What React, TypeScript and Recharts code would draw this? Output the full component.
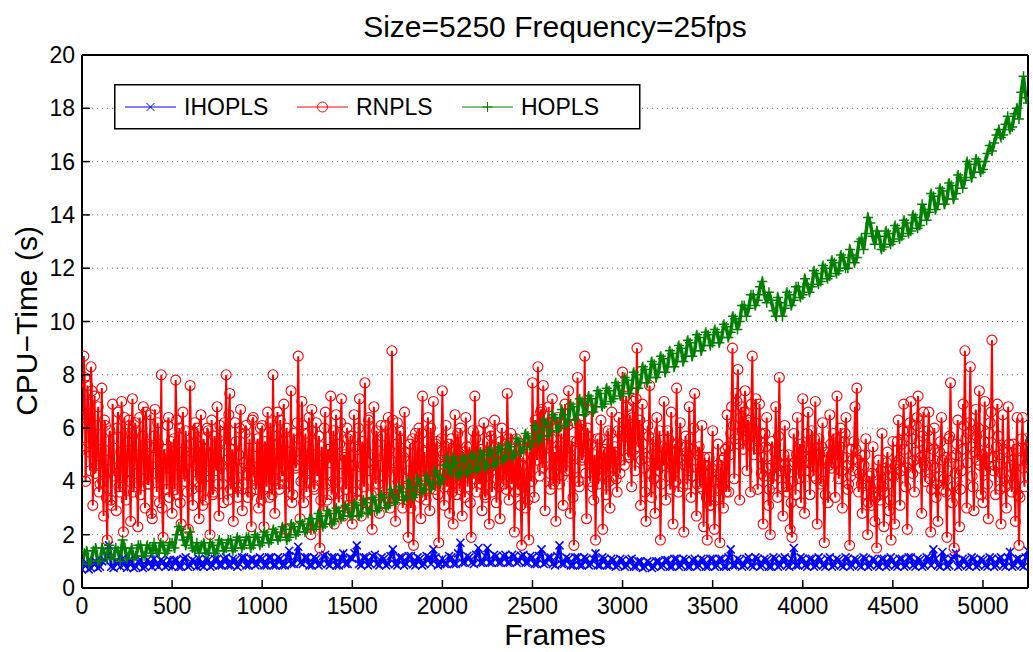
import React from "react";
import { LineChart, Line, XAxis, YAxis, CartesianGrid, Legend } from "recharts";

const FONT = '"Liberation Sans", Arial, Helvetica, sans-serif';

const X_TICKS = [0, 500, 1000, 1500, 2000, 2500, 3000, 3500, 4000, 4500, 5000];
const Y_TICKS = [0, 2, 4, 6, 8, 10, 12, 14, 16, 18, 20];
const LAST_FRAME = 5250;

// RNPLS, readings at frames 0, 10, 20 ... (rows of 500 frames)
const RN_STEP = 10;
const rnplsTime = [
  5.2, 8.7, 4.0, 7.6, 5.1, 8.3, 3.1, 7.2, 4.6, 6.8, 3.9, 7.5, 2.7, 6.1, 1.8, 5.5, 3.3, 6.9, 4.2, 2.9,
  6.6, 3.6, 7.0, 2.1, 5.8, 4.4, 6.3, 2.5, 7.1, 3.8, 5.9, 2.3, 6.4, 4.1, 6.8, 3.0, 5.4, 3.9, 6.5, 2.6,
  5.7, 4.3, 6.2, 3.2, 8.0, 1.9, 5.0, 3.7, 6.4, 4.5,
  2.8, 5.6, 7.8, 3.5, 6.0, 2.4, 6.6, 4.0, 5.3, 2.2, 7.6, 3.7, 5.8, 4.6, 6.0, 2.6, 6.5, 3.1, 5.2, 4.4,
  5.9, 2.0, 6.3, 3.6, 4.9, 6.8, 2.7, 5.5, 3.9, 6.2, 8.0, 3.3, 7.3, 4.5, 2.5, 6.2, 3.8, 5.0, 6.7, 2.9,
  4.7, 6.1, 3.4, 5.6, 2.3, 6.4, 4.1, 5.3, 3.0, 6.0,
  6.1, 2.3, 5.2, 6.6, 3.4, 4.8, 8.0, 2.8, 5.7, 3.9, 6.3, 4.2, 6.9, 2.2, 5.5, 3.6, 7.4, 3.5, 5.1, 4.6,
  8.7, 2.6, 7.0, 3.2, 5.8, 4.3, 6.4, 2.0, 5.9, 3.7, 6.2, 4.5, 1.5, 5.3, 2.9, 6.6, 3.3, 5.0, 7.2, 4.0,
  2.4, 6.5, 3.6, 5.4, 7.1, 2.7, 4.9, 6.0, 3.1, 5.7,
  2.4, 6.5, 3.6, 5.2, 7.1, 2.7, 4.6, 7.7, 3.2, 6.3, 4.4, 2.2, 6.8, 3.9, 5.5, 2.8, 6.1, 4.2, 5.0, 3.4,
  6.4, 3.0, 8.9, 4.7, 2.5, 6.2, 3.8, 5.6, 3.0, 6.6, 4.1, 1.9, 5.4, 3.5, 1.6, 5.8, 4.0, 6.0, 2.6, 7.2,
  5.1, 3.3, 6.4, 2.9, 5.2, 7.0, 3.7, 5.5, 1.7, 4.8,
  7.4, 3.1, 6.1, 4.3, 2.8, 5.6, 2.4, 6.5, 3.5, 5.0, 6.0, 2.7, 4.8, 6.4, 3.8, 5.3, 1.9, 5.9, 7.2, 3.6,
  5.9, 4.1, 2.9, 6.2, 3.4, 5.5, 2.4, 5.7, 4.6, 6.3, 3.2, 5.1, 2.6, 6.0, 3.9, 5.4, 7.3, 3.3, 5.8, 4.4,
  2.1, 5.6, 3.7, 5.2, 1.6, 4.9, 3.0, 5.5, 1.8, 4.7,
  7.7, 3.4, 6.0, 8.3, 4.2, 6.7, 7.6, 2.9, 5.4, 6.8, 3.7, 7.1, 4.6, 2.5, 6.4, 3.9, 5.8, 3.1, 6.9, 4.4,
  7.4, 2.8, 5.5, 1.6, 6.2, 7.9, 3.8, 6.1, 4.9, 8.7, 2.6, 5.7, 4.0, 6.7, 3.3, 1.8, 5.6, 4.3, 6.3, 2.2,
  5.2, 3.5, 5.9, 3.0, 6.6, 4.2, 5.1, 3.6, 6.4, 4.8,
  8.1, 4.6, 7.2, 5.0, 6.5, 3.8, 7.0, 4.4, 9.0, 5.3, 3.1, 6.9, 4.5, 2.5, 6.1, 7.6, 3.4, 5.6, 2.8, 6.4,
  4.7, 1.8, 5.3, 7.0, 3.3, 5.9, 4.2, 6.6, 2.4, 5.4, 7.5, 3.6, 6.2, 4.8, 2.1, 5.7, 3.9, 6.8, 3.4, 5.2,
  7.3, 2.7, 5.0, 3.8, 6.1, 2.3, 4.6, 1.8, 4.9, 3.1,
  5.9, 2.2, 4.4, 5.4, 1.7, 4.8, 3.0, 5.2, 6.5, 3.6, 5.8, 9.0, 4.1, 7.3, 8.2, 3.3, 6.8, 5.2, 7.4, 4.4,
  6.2, 3.6, 8.7, 5.0, 7.1, 3.7, 6.9, 4.3, 2.4, 5.8, 6.4, 3.1, 2.0, 5.5, 4.2, 6.8, 3.4, 7.9, 4.6, 2.7,
  6.1, 3.8, 5.0, 2.2, 1.9, 5.8, 3.5, 6.4, 4.1, 3.2,
  7.1, 2.8, 5.3, 6.6, 3.5, 5.9, 4.2, 7.0, 2.4, 5.6, 3.9, 6.2, 1.7, 4.8, 3.2, 6.5, 4.5, 5.8, 3.4, 7.2,
  4.1, 6.0, 3.0, 5.5, 6.4, 3.7, 1.6, 5.2, 4.4, 6.8, 7.5, 3.6, 5.0, 2.8, 4.6, 5.6, 2.0, 4.2, 3.1, 5.3,
  2.5, 1.5, 4.8, 3.3, 5.8, 2.3, 4.5, 5.1, 2.9, 1.8,
  5.5, 2.4, 4.7, 6.3, 3.1, 5.4, 6.9, 3.8, 2.2, 5.9, 7.0, 4.3, 3.6, 6.1, 7.2, 4.5, 2.8, 6.6, 4.0, 5.3,
  6.6, 2.1, 4.6, 6.0, 3.4, 2.5, 5.1, 6.4, 3.7, 4.9, 1.9, 5.6, 7.7, 3.2, 1.5, 5.0, 6.3, 2.3, 4.4, 6.9,
  8.9, 3.0, 5.8, 8.3, 4.2, 2.9, 6.7, 4.8, 7.4, 3.5,
  3.2, 7.0, 5.1, 2.6, 6.2, 9.3, 4.4, 3.5, 6.9, 5.0, 2.4, 6.5, 4.1, 3.0, 6.8, 4.6, 3.6, 5.4, 2.5, 6.4,
  1.6, 4.8, 6.4, 3.8, 5.6, 4.2,
];

// RNPLS, readings at frames 5, 15, 25 ... (rows of 500 frames)
const rnplsTimeMid = [
  6.4, 7.9, 5.3, 6.9, 4.4, 7.4, 5.8, 4.3, 6.1, 3.6, 5.2, 4.0, 6.3, 3.4, 4.8, 5.9, 3.1, 5.6, 4.5, 6.0,
  3.8, 5.1, 4.2, 6.4, 3.3, 5.5, 4.0, 5.8, 3.6, 6.2, 4.3, 5.0, 3.5, 5.7, 4.1, 6.6, 3.9, 5.3, 2.8, 4.9,
  6.7, 3.6, 5.4, 4.4, 3.0, 5.2, 4.7, 6.1, 3.4, 5.5,
  4.9, 3.7, 6.3, 4.6, 3.2, 5.1, 4.3, 5.9, 3.6, 4.8, 5.4, 3.1, 6.2, 4.0, 5.3, 3.8, 4.7, 5.6, 3.3, 6.0,
  4.2, 5.0, 3.5, 5.7, 4.4, 3.9, 6.1, 4.6, 3.2, 5.4, 4.8, 6.5, 3.7, 5.2, 4.1, 5.5, 3.4, 6.0, 4.5, 3.9,
  5.8, 4.3, 5.0, 3.6, 6.3, 4.2, 3.7, 5.6, 4.6, 3.3,
  4.4, 5.5, 3.8, 4.9, 6.2, 3.5, 5.4, 4.1, 6.6, 3.7, 4.8, 5.5, 3.9, 6.0, 4.3, 5.1, 3.2, 5.8, 4.5, 6.2,
  5.6, 4.0, 6.1, 4.8, 3.6, 5.3, 4.4, 6.7, 3.8, 5.0, 4.2, 5.7, 3.3, 4.6, 6.0, 3.9, 5.2, 4.7, 3.5, 5.9,
  4.0, 5.4, 3.2, 6.2, 4.3, 5.0, 3.7, 5.6, 4.6, 3.4,
  4.6, 5.3, 3.3, 6.0, 4.2, 5.5, 3.8, 5.1, 4.7, 6.4, 3.5, 5.0, 4.3, 5.9, 3.9, 4.6, 5.7, 3.2, 6.1, 4.4,
  5.2, 4.8, 6.3, 3.4, 5.4, 4.0, 5.9, 3.6, 4.9, 5.1, 3.3, 4.4, 3.0, 5.6, 3.8, 4.6, 5.3, 3.4, 5.8, 4.2,
  3.7, 5.5, 4.1, 6.0, 3.9, 4.7, 5.4, 3.5, 4.1, 5.6,
  5.0, 4.6, 3.8, 5.4, 4.0, 3.6, 5.2, 4.2, 5.8, 3.7, 4.5, 5.1, 3.4, 5.3, 4.6, 3.2, 4.9, 4.1, 5.6, 4.8,
  3.9, 5.2, 4.4, 3.5, 5.0, 4.2, 5.9, 3.6, 4.7, 5.3, 4.1, 3.8, 5.5, 4.3, 4.9, 3.7, 5.6, 4.5, 3.9, 5.2,
  3.6, 4.4, 5.0, 3.1, 4.6, 3.8, 4.2, 3.3, 5.1, 4.0,
  5.4, 6.3, 4.8, 5.7, 6.6, 4.5, 5.9, 4.9, 6.2, 4.3, 5.6, 3.9, 5.1, 6.0, 4.6, 5.3, 4.2, 5.8, 4.4, 6.1,
  4.9, 5.3, 3.4, 4.5, 5.5, 4.0, 6.3, 4.8, 5.6, 4.3, 6.0, 4.7, 5.4, 3.8, 5.0, 4.4, 3.9, 5.6, 4.2, 5.1,
  4.6, 5.4, 4.0, 5.8, 4.5, 5.3, 4.1, 5.9, 4.3, 5.7,
  6.2, 5.7, 6.8, 4.9, 5.6, 6.4, 5.2, 7.1, 5.6, 6.3, 4.8, 5.4, 3.6, 4.9, 5.7, 4.3, 5.0, 4.1, 5.5, 4.4,
  5.9, 3.9, 4.6, 5.2, 4.8, 5.6, 3.7, 5.1, 4.5, 4.0, 5.4, 4.9, 5.3, 3.8, 4.6, 5.1, 4.4, 5.6, 4.2, 6.0,
  4.8, 3.9, 5.3, 4.4, 3.7, 4.9, 3.4, 4.3, 3.1, 4.5,
  4.0, 3.3, 4.6, 3.4, 4.2, 3.8, 4.9, 3.6, 5.3, 5.0, 6.8, 6.1, 5.6, 7.0, 5.4, 6.4, 5.9, 6.6, 5.7, 6.3,
  5.4, 6.9, 5.8, 6.2, 5.6, 5.2, 5.8, 4.9, 4.2, 5.3, 4.5, 3.7, 4.6, 3.9, 5.1, 4.8, 5.7, 4.4, 3.8, 5.0,
  4.4, 3.6, 4.6, 3.2, 4.0, 4.7, 5.0, 4.5, 5.4, 5.1,
  4.9, 4.4, 5.8, 4.7, 5.2, 4.6, 5.6, 4.1, 4.8, 5.0, 5.3, 4.0, 3.5, 5.1, 4.6, 5.4, 5.1, 4.7, 5.6, 5.0,
  5.3, 4.4, 4.9, 5.8, 4.6, 3.9, 4.2, 4.8, 5.5, 5.2, 4.8, 4.3, 3.9, 4.1, 5.0, 3.5, 3.2, 3.8, 4.3, 3.6,
  3.4, 3.9, 3.5, 4.4, 3.8, 3.6, 4.7, 3.9, 3.3, 4.2,
  4.2, 4.6, 5.5, 4.8, 4.4, 5.9, 5.2, 4.5, 4.7, 6.2, 5.6, 4.8, 5.1, 6.4, 5.5, 4.9, 5.7, 5.0, 4.6, 5.9,
  4.1, 3.7, 5.2, 4.5, 3.9, 4.2, 5.5, 4.8, 4.1, 3.6, 4.4, 5.7, 4.9, 3.8, 4.3, 5.4, 4.6, 3.7, 5.2, 6.1,
  5.6, 4.7, 6.2, 5.3, 3.8, 5.1, 5.7, 6.0, 4.6, 5.0,
  5.5, 4.4, 3.9, 5.8, 6.6, 4.9, 4.6, 5.3, 5.7, 3.7, 4.3, 5.2, 3.8, 5.1, 5.4, 4.2, 4.8, 3.9, 5.2, 3.5,
  3.4, 5.6, 4.5, 5.2, 4.7,
];

// IHOPLS, readings at frames 0, 25, 50 ... (rows of 500 frames)
const IH_STEP = 25;
const ihoplsTime = [
  0.7, 0.95, 0.75, 1.0, 0.8, 1.05, 1.6, 0.75, 0.95, 1.1, 0.75, 1.0, 0.8, 1.05, 0.8, 0.95, 1.1, 0.8, 1.0, 0.85,
  0.8, 1.05, 0.8, 1.15, 0.85, 1.0, 1.1, 0.8, 1.05, 0.85, 1.1, 0.85, 1.15, 0.85, 1.05, 0.9, 1.15, 0.85, 1.1, 0.9,
  1.1, 0.85, 1.15, 0.85, 1.1, 0.85, 1.4, 0.9, 1.55, 0.9, 1.15, 0.85, 1.1, 0.9, 1.25, 0.85, 1.15, 0.85, 1.3, 0.9,
  1.1, 1.6, 0.85, 1.15, 0.9, 1.25, 0.85, 1.1, 0.9, 1.45, 0.85, 1.15, 0.9, 1.2, 0.85, 1.1, 0.9, 1.15, 1.45, 0.85,
  1.1, 0.9, 1.15, 0.9, 1.7, 0.95, 1.15, 0.9, 1.5, 0.95, 1.5, 0.95, 1.2, 0.95, 1.25, 0.95, 1.2, 1.0, 1.25, 0.95,
  1.15, 0.9, 1.45, 0.95, 1.15, 0.85, 1.6, 0.9, 1.1, 0.85, 1.15, 0.85, 1.1, 0.9, 1.3, 0.85, 1.1, 0.85, 1.05, 0.85,
  1.05, 0.85, 1.1, 0.8, 1.0, 0.8, 0.95, 0.8, 1.0, 0.85, 1.05, 0.8, 1.1, 0.85, 1.05, 0.8, 1.1, 0.85, 1.05, 0.8,
  1.1, 0.85, 1.1, 0.8, 1.45, 0.85, 1.05, 0.85, 1.15, 0.8, 1.1, 0.85, 1.05, 0.8, 1.1, 0.85, 1.15, 0.8, 1.5, 0.85,
  1.1, 0.8, 1.1, 0.85, 1.05, 0.8, 1.15, 0.85, 1.05, 0.8, 1.1, 0.85, 1.05, 0.8, 1.1, 0.85, 1.05, 0.8, 1.1, 0.85,
  1.05, 0.8, 1.1, 0.85, 1.15, 0.8, 1.05, 0.85, 1.1, 1.45, 0.85, 1.35, 0.8, 1.1, 1.3, 0.85, 1.05, 0.8, 1.1, 0.85,
  1.05, 0.8, 1.1, 0.85, 1.15, 0.8, 1.35, 0.85, 1.1, 0.8, 1.4,
];

// IHOPLS, readings half-way between the ones above
const ihoplsTimeMid = [
  0.9, 0.7, 0.95, 0.75, 1.0, 1.2, 0.8, 1.0, 0.8, 0.9, 1.05, 0.75, 1.0, 0.75, 1.05, 0.8, 0.9, 1.05, 0.8, 1.05,
  1.05, 0.8, 1.1, 0.8, 1.05, 0.8, 0.85, 1.1, 0.8, 1.1, 0.85, 1.1, 0.85, 1.1, 0.8, 1.15, 0.85, 1.1, 0.85, 1.15,
  0.85, 1.15, 0.85, 1.15, 0.85, 1.15, 0.9, 1.2, 0.95, 1.15, 0.85, 1.15, 0.85, 1.2, 0.9, 1.15, 0.85, 1.15, 0.9, 1.15,
  1.3, 0.9, 1.15, 0.85, 1.2, 0.9, 1.15, 0.85, 1.2, 0.9, 1.15, 0.85, 1.2, 0.9, 1.15, 0.85, 1.2, 0.9, 1.15, 0.9,
  0.9, 1.2, 0.9, 1.3, 0.95, 1.2, 0.95, 1.25, 0.95, 1.2, 0.95, 1.25, 0.95, 1.2, 0.95, 1.25, 0.95, 1.2, 0.95, 1.2,
  0.9, 1.2, 0.9, 1.15, 0.9, 1.2, 0.9, 1.15, 0.85, 1.15, 0.85, 1.15, 0.85, 1.1, 0.85, 1.15, 0.85, 1.1, 0.8, 1.1,
  0.8, 1.05, 0.8, 1.0, 0.75, 1.0, 0.75, 1.0, 0.8, 1.05, 0.8, 1.1, 0.8, 1.1, 0.8, 1.05, 0.8, 1.1, 0.8, 1.1,
  0.8, 1.1, 0.8, 1.15, 0.85, 1.1, 0.8, 1.1, 0.85, 1.15, 0.8, 1.1, 0.8, 1.15, 0.8, 1.1, 0.85, 1.1, 0.85, 1.15,
  0.85, 1.1, 0.8, 1.15, 0.85, 1.1, 0.8, 1.1, 0.85, 1.15, 0.8, 1.1, 0.85, 1.15, 0.8, 1.1, 0.85, 1.1, 0.8, 1.15,
  0.85, 1.1, 0.8, 1.15, 0.85, 1.1, 0.8, 1.15, 0.85, 1.1, 0.8, 1.1, 0.85, 1.15, 0.8, 1.1, 0.85, 1.15, 0.8, 1.1,
  0.85, 1.15, 0.8, 1.1, 0.85, 1.15, 0.8, 1.1, 0.85, 1.15,
];

// HOPLS, readings at frames 0, 25, 50 ... (rows of 500 frames)
const HO_STEP = 25;
const hoplsTime = [
  0.9, 1.4, 1.0, 1.5, 1.0, 1.3, 1.6, 1.1, 1.4, 1.8, 1.1, 1.5, 1.2, 1.6, 1.2, 1.5, 1.7, 1.3, 1.6, 1.4,
  1.7, 2.0, 2.2, 1.6, 2.1, 1.4, 1.3, 1.7, 1.3, 1.6, 1.4, 1.7, 1.5, 1.8, 1.5, 1.8, 1.6, 1.9, 1.6, 1.9,
  1.7, 2.0, 1.8, 2.1, 1.9, 2.2, 1.9, 2.3, 2.1, 2.4, 2.2, 2.6, 2.3, 2.7, 2.4, 2.8, 2.5, 2.9, 2.7, 3.0,
  2.7, 3.1, 2.8, 3.2, 2.9, 3.3, 3.0, 3.4, 3.1, 3.5, 3.3, 3.6, 3.4, 3.8, 3.5, 3.9, 3.7, 4.0, 3.9, 4.2,
  4.1, 4.9, 4.3, 4.7, 4.3, 4.8, 4.4, 4.9, 4.5, 5.0, 4.6, 5.1, 4.7, 5.2, 4.9, 5.3, 5.0, 5.5, 5.2, 5.7,
  5.5, 6.0, 5.7, 6.2, 5.9, 6.4, 6.0, 6.5, 6.3, 6.8, 6.5, 7.0, 6.6, 7.1, 6.8, 7.3, 6.9, 7.4, 7.1, 7.6,
  7.3, 7.8, 7.5, 8.0, 7.7, 8.2, 7.9, 8.4, 8.1, 8.6, 8.3, 8.8, 8.5, 9.0, 8.7, 9.2, 8.9, 9.4, 9.1, 9.5,
  9.2, 9.6, 9.4, 9.8, 9.6, 10.1, 10.0, 10.6, 10.5, 11.0, 10.8, 11.5, 10.7, 10.8, 10.2, 10.7, 10.5, 11.0, 10.8, 11.3,
  11.0, 11.4, 11.3, 11.8, 11.5, 12.0, 11.7, 12.2, 11.9, 12.4, 12.0, 12.5, 12.4, 13.1, 13.3, 13.7, 12.9, 13.2, 12.8, 13.3,
  13.0, 13.5, 13.2, 13.7, 13.4, 13.9, 13.6, 14.2, 14.1, 14.7, 14.4, 14.9, 14.6, 15.1, 14.8, 15.4, 15.3, 15.9, 15.6, 16.0,
  15.7, 16.3, 16.4, 17.0, 16.9, 17.4, 17.2, 17.8, 17.6, 19.2, 18.2,
];

// HOPLS, readings half-way between the ones above
const hoplsTimeMid = [
  1.3, 0.9, 1.4, 1.0, 1.5, 1.1, 1.2, 1.5, 1.0, 1.5, 1.3, 1.1, 1.6, 1.2, 1.6, 1.3, 1.4, 1.7, 1.3, 1.7,
  1.5, 2.3, 1.8, 1.9, 1.5, 1.7, 1.6, 1.3, 1.7, 1.3, 1.8, 1.4, 1.8, 1.4, 1.9, 1.5, 1.9, 1.5, 2.0, 1.6,
  2.1, 1.7, 2.2, 1.8, 2.3, 1.8, 2.4, 2.0, 2.5, 2.1, 2.6, 2.2, 2.8, 2.3, 2.9, 2.4, 3.0, 2.6, 3.1, 2.7,
  3.2, 2.7, 3.3, 2.8, 3.4, 2.9, 3.5, 3.0, 3.7, 3.2, 3.8, 3.3, 4.0, 3.4, 4.1, 3.6, 4.2, 3.7, 4.4, 3.9,
  4.6, 4.5, 4.9, 4.2, 4.9, 4.3, 5.0, 4.4, 5.1, 4.5, 5.2, 4.6, 5.3, 4.8, 5.4, 4.9, 5.6, 5.1, 5.8, 5.3,
  6.1, 5.5, 6.3, 5.7, 6.5, 5.9, 6.7, 6.1, 6.9, 6.3, 7.1, 6.5, 7.2, 6.6, 7.4, 6.8, 7.5, 7.0, 7.7, 7.2,
  7.9, 7.3, 8.1, 7.5, 8.3, 7.7, 8.5, 7.9, 8.7, 8.1, 8.9, 8.3, 9.1, 8.5, 9.3, 8.7, 9.5, 8.9, 9.6, 9.1,
  9.7, 9.2, 9.9, 9.4, 10.2, 9.7, 10.6, 10.2, 11.0, 10.6, 11.3, 11.0, 11.1, 10.4, 10.9, 10.2, 11.1, 10.6, 11.3, 10.9,
  11.6, 11.1, 11.9, 11.4, 12.1, 11.6, 12.3, 11.8, 12.5, 12.0, 12.7, 12.2, 13.0, 12.7, 13.9, 13.2, 13.4, 12.7, 13.4, 12.9,
  13.6, 13.1, 13.8, 13.3, 14.0, 13.5, 14.4, 13.8, 14.8, 14.2, 15.0, 14.4, 15.2, 14.6, 15.5, 15.0, 16.0, 15.4, 16.1, 15.6,
  16.0, 16.6, 16.7, 17.2, 17.0, 17.7, 17.3, 18.0, 18.6, 18.4,
];

const toPoints = (vals: number[], step: number, offset = 0) =>
  vals.map((y, i) => ({ x: Math.min(offset + i * step, LAST_FRAME), y }));
const merge = (a: { x: number; y: number }[], b: { x: number; y: number }[]) =>
  [...a, ...b].sort((p, q) => p.x - q.x);

const ihData = merge(toPoints(ihoplsTime, IH_STEP), toPoints(ihoplsTimeMid, IH_STEP, IH_STEP / 2));
const rnData = merge(toPoints(rnplsTime, RN_STEP), toPoints(rnplsTimeMid, RN_STEP, RN_STEP / 2));
const hoData = merge(toPoints(hoplsTime, HO_STEP), toPoints(hoplsTimeMid, HO_STEP, HO_STEP / 2));

const BLUE = "#0000ff";
const RED = "#ff0000";
const GREEN = "#008000";

function marker(kind: string, cx: number, cy: number, color: string, key?: string, w = 1) {
  if (kind === "circle")
    return <circle key={key} cx={cx} cy={cy} r={5} fill="none" stroke={color} strokeWidth={w} />;
  if (kind === "cross")
    return (
      <path key={key} d={`M${cx - 4},${cy - 4}L${cx + 4},${cy + 4}M${cx - 4},${cy + 4}L${cx + 4},${cy - 4}`}
        stroke={color} strokeWidth={w} fill="none" />
    );
  return (
    <path key={key} d={`M${cx - 5},${cy}H${cx + 5}M${cx},${cy - 5}V${cy + 5}`}
      stroke={color} strokeWidth={w} fill="none" />
  );
}

const makeDot = (kind: string, color: string, w: number) => (p: any) => {
  const k = `${kind}${p.index}`;
  if (p.cx == null || p.cy == null) return <g key={k} />;
  return marker(kind, p.cx, p.cy, color, k, w);
};

const SERIES = [
  { name: "IHOPLS", color: BLUE, kind: "cross" },
  { name: "RNPLS", color: RED, kind: "circle" },
  { name: "HOPLS", color: GREEN, kind: "plus" },
];

function LegendBox() {
  const xs = [0, 172, 337];
  return (
    <svg width={527} height={46} style={{ display: "block" }}>
      <rect x={0.75} y={0.75} width={525} height={44} fill="#fff" stroke="#000" strokeWidth={1.5} />
      {SERIES.map((s, i) => (
        <g key={s.name} transform={`translate(${xs[i]},0)`}>
          <line x1={11} x2={62} y1={23} y2={23} stroke={s.color} strokeWidth={1} />
          {marker(s.kind, 36.5, 23, s.color)}
          <text x={70} y={31} fontSize={23} fontFamily={FONT} fill="#000">{s.name}</text>
        </g>
      ))}
    </svg>
  );
}

function BottomTick({ x, y, payload }: any) {
  return (
    <g>
      <line x1={x} x2={x} y1={y} y2={y - 8} stroke="#000" strokeWidth={1.5} />
      <text x={x} y={y + 26} textAnchor="middle" fontSize={23} fontFamily={FONT} fill="#000">{payload.value}</text>
    </g>
  );
}
function TopTick({ x, y }: any) {
  return <line x1={x} x2={x} y1={y} y2={y + 8} stroke="#000" strokeWidth={1.5} />;
}
function LeftTick({ x, y, payload }: any) {
  return (
    <g>
      <line x1={x} x2={x + 8} y1={y} y2={y} stroke="#000" strokeWidth={1.5} />
      <text x={x - 7} y={y + 8} textAnchor="end" fontSize={23} fontFamily={FONT} fill="#000">{payload.value}</text>
    </g>
  );
}
function RightTick({ x, y }: any) {
  return <line x1={x} x2={x - 8} y1={y} y2={y} stroke="#000" strokeWidth={1.5} />;
}

const axisLine = { stroke: "#000", strokeWidth: 2 };

export default function App() {
  return (
    <div style={{ position: "absolute", left: 0, top: 0, width: 1033, height: 652, background: "#fff", fontFamily: FONT }}>
      <LineChart width={1033} height={652} margin={{ top: 25, right: 0, bottom: 0, left: 0 }}>
        <CartesianGrid vertical={false} stroke="#666" strokeDasharray="1 4" />
        <XAxis xAxisId={0} dataKey="x" type="number" domain={[0, LAST_FRAME]} ticks={X_TICKS}
          allowDataOverflow height={64} tickSize={0} tickMargin={0} axisLine={axisLine}
          tickLine={false} tick={<BottomTick />} interval={0} />
        <XAxis xAxisId="top" orientation="top" dataKey="x" type="number" domain={[0, LAST_FRAME]}
          ticks={X_TICKS} height={30} tickSize={0} tickMargin={0} axisLine={axisLine}
          tickLine={false} tick={<TopTick />} interval={0} />
        <YAxis yAxisId={0} type="number" domain={[0, 20]} ticks={Y_TICKS} allowDataOverflow width={82}
          tickSize={0} tickMargin={0} axisLine={axisLine} tickLine={false} tick={<LeftTick />} interval={0} />
        <YAxis yAxisId="right" orientation="right" type="number" domain={[0, 20]} ticks={Y_TICKS}
          width={5} tickSize={0} tickMargin={0} axisLine={axisLine} tickLine={false}
          tick={<RightTick />} interval={0} />
        <Legend layout="vertical" align="center" verticalAlign="middle"
          wrapperStyle={{ left: 114, top: 84, width: 527, height: 46 }}
          content={() => <LegendBox />} />
        <Line data={ihData} dataKey="y" name="IHOPLS" type="linear" stroke={BLUE} strokeWidth={3}
          dot={makeDot("cross", BLUE, 1.5)} activeDot={false} isAnimationActive={false} />
        <Line data={rnData} dataKey="y" name="RNPLS" type="linear" stroke={RED} strokeWidth={2}
          dot={makeDot("circle", RED, 1.1)} activeDot={false} isAnimationActive={false} />
        <Line data={hoData} dataKey="y" name="HOPLS" type="linear" stroke={GREEN} strokeWidth={3.5}
          dot={makeDot("plus", GREEN, 1.5)} activeDot={false} isAnimationActive={false} />
      </LineChart>
      <div style={{ position: "absolute", left: 0, width: 1110, top: 10, textAlign: "center", fontSize: 30, lineHeight: "34px", color: "#000" }}>
        Size=5250 Frequency=25fps
      </div>
      <div style={{ position: "absolute", left: 0, width: 1110, top: 619, textAlign: "center", fontSize: 30, lineHeight: "32px", color: "#000" }}>
        Frames
      </div>
      <svg style={{ position: "absolute", left: 0, top: 0 }} width={60} height={652}>
        <text transform="translate(37,321) rotate(-90)" textAnchor="middle" fontSize={30} fontFamily={FONT} fill="#000">
          CPU−Time (s)
        </text>
      </svg>
    </div>
  );
}
